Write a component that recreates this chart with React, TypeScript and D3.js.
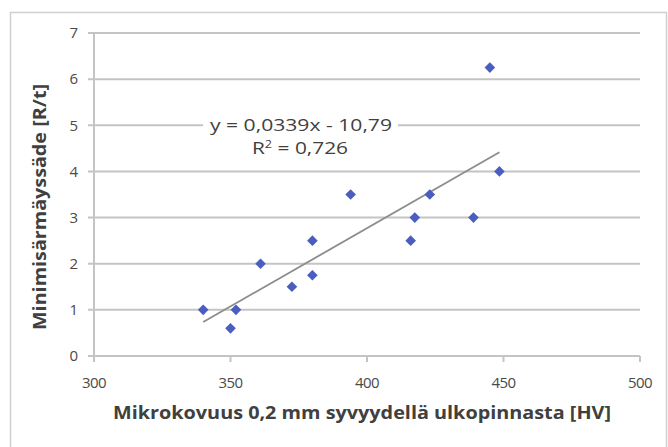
import React, { useEffect, useRef } from "react";
import * as d3 from "d3";

// microhardness [HV] vs minimum bend radius ratio [R/t]
const hardness = [340, 350, 352, 361, 372.5, 380, 380, 394, 416, 417.5, 423, 439, 445, 448.5];
const bendRatio = [1, 0.6, 1, 2, 1.5, 2.5, 1.75, 3.5, 2.5, 3, 3.5, 3, 6.25, 4];
const xTicks = [300, 350, 400, 450, 500];
const yTicks = [0, 1, 2, 3, 4, 5, 6, 7];
const slope = 0.0339;
const intercept = -10.79;
const eqLabel = "y = 0,0339x - 10,79";
const r2Label = "0,726";
const xTitle = "Mikrokovuus 0,2 mm syvyydellä ulkopinnasta [HV]";
const yTitle = "Minimisärmäyssäde [R/t]";

export default function App() {
  const ref = useRef<SVGSVGElement>(null);

  useEffect(() => {
    const svg = d3.select(ref.current);
    svg.selectAll("*").remove();

    const left = 94, right = 640, top = 33, bottom = 356;
    const x = d3.scaleLinear().domain([300, 500]).range([left, right]);
    const y = d3.scaleLinear().domain([0, 7]).range([bottom, top]);
    const gridColor = "#c4c4c4";
    const textColor = "#404040";
    const font = "'Open Sans', 'Liberation Sans', sans-serif";

    // outer frame
    svg.append("rect")
      .attr("x", 10.5).attr("y", 12.5)
      .attr("width", 656).attr("height", 445)
      .attr("fill", "white")
      .attr("stroke", "#d0d0d0")
      .attr("stroke-width", 1.5);

    // gridlines
    svg.append("g")
      .selectAll("line")
      .data(yTicks)
      .join("line")
      .attr("x1", left - 6)
      .attr("x2", right)
      .attr("y1", d => y(d))
      .attr("y2", d => y(d))
      .attr("stroke", gridColor)
      .attr("stroke-width", 2);

    // y axis line
    svg.append("line")
      .attr("x1", left).attr("x2", left)
      .attr("y1", top).attr("y2", bottom)
      .attr("stroke", gridColor).attr("stroke-width", 2);

    // x axis ticks
    svg.append("g")
      .selectAll("line")
      .data(xTicks)
      .join("line")
      .attr("x1", d => x(d)).attr("x2", d => x(d))
      .attr("y1", bottom).attr("y2", bottom + 6)
      .attr("stroke", gridColor).attr("stroke-width", 2);

    // tick labels
    svg.append("g")
      .selectAll("text")
      .data(yTicks)
      .join("text")
      .attr("x", 78)
      .attr("y", d => y(d))
      .attr("dy", "0.35em")
      .attr("text-anchor", "end")
      .attr("font-family", font)
      .attr("font-size", 15)
      .attr("fill", "#4a4a4a")
      .text(d => d);

    svg.append("g")
      .selectAll("text")
      .data(xTicks)
      .join("text")
      .attr("x", d => x(d))
      .attr("y", 383)
      .attr("dy", "0.35em")
      .attr("text-anchor", "middle")
      .attr("font-family", font)
      .attr("font-size", 15)
      .attr("letter-spacing", -0.6)
      .attr("fill", "#4a4a4a")
      .text(d => d);

    // trend line
    const x0 = d3.min(hardness)!, x1 = d3.max(hardness)!;
    svg.append("line")
      .attr("x1", x(x0)).attr("y1", y(slope * x0 + intercept))
      .attr("x2", x(x1)).attr("y2", y(slope * x1 + intercept))
      .attr("stroke", "#8c8c8c")
      .attr("stroke-width", 1.8);

    // equation label
    svg.append("rect")
      .attr("x", 203).attr("y", 113)
      .attr("width", 195).attr("height", 48)
      .attr("fill", "white");
    svg.append("text")
      .attr("x", 301).attr("y", 125)
      .attr("dy", "0.35em")
      .attr("text-anchor", "middle")
      .attr("font-family", font)
      .attr("font-size", 16.5)
      .attr("fill", textColor)
      .attr("textLength", 182)
      .attr("lengthAdjust", "spacingAndGlyphs")
      .text(eqLabel);
    const r2 = svg.append("text")
      .attr("x", 300).attr("y", 148)
      .attr("dy", "0.35em")
      .attr("text-anchor", "middle")
      .attr("font-family", font)
      .attr("font-size", 16.5)
      .attr("fill", textColor)
      .attr("textLength", 96)
      .attr("lengthAdjust", "spacingAndGlyphs");
    r2.append("tspan").text("R");
    r2.append("tspan").attr("dy", -6).attr("font-size", 10).text("2");
    r2.append("tspan").attr("dy", 6).text(" = " + r2Label);

    // points
    const diamond = d3.symbol().type(d3.symbolDiamond2).size(72);
    svg.append("g")
      .selectAll("path")
      .data(hardness.map((h, i) => [h, bendRatio[i]]))
      .join("path")
      .attr("d", diamond)
      .attr("transform", d => `translate(${x(d[0])},${y(d[1])})`)
      .attr("fill", "#4a5ec0");

    // axis titles
    svg.append("text")
      .attr("x", 362).attr("y", 413)
      .attr("dy", "0.35em")
      .attr("text-anchor", "middle")
      .attr("font-family", font)
      .attr("font-weight", "bold")
      .attr("font-size", 17)
      .attr("fill", textColor)
      .attr("textLength", 498)
      .attr("lengthAdjust", "spacingAndGlyphs")
      .text(xTitle);

    svg.append("text")
      .attr("transform", "translate(40,207) rotate(-90)")
      .attr("dy", "0.35em")
      .attr("text-anchor", "middle")
      .attr("font-family", font)
      .attr("font-weight", "bold")
      .attr("font-size", 17)
      .attr("fill", textColor)
      .attr("textLength", 246)
      .attr("lengthAdjust", "spacingAndGlyphs")
      .text(yTitle);
  }, []);

  return (
    <svg
      ref={ref}
      width={668}
      height={447}
      style={{ position: "absolute", left: 0, top: 0, background: "white" }}
    />
  );
}
